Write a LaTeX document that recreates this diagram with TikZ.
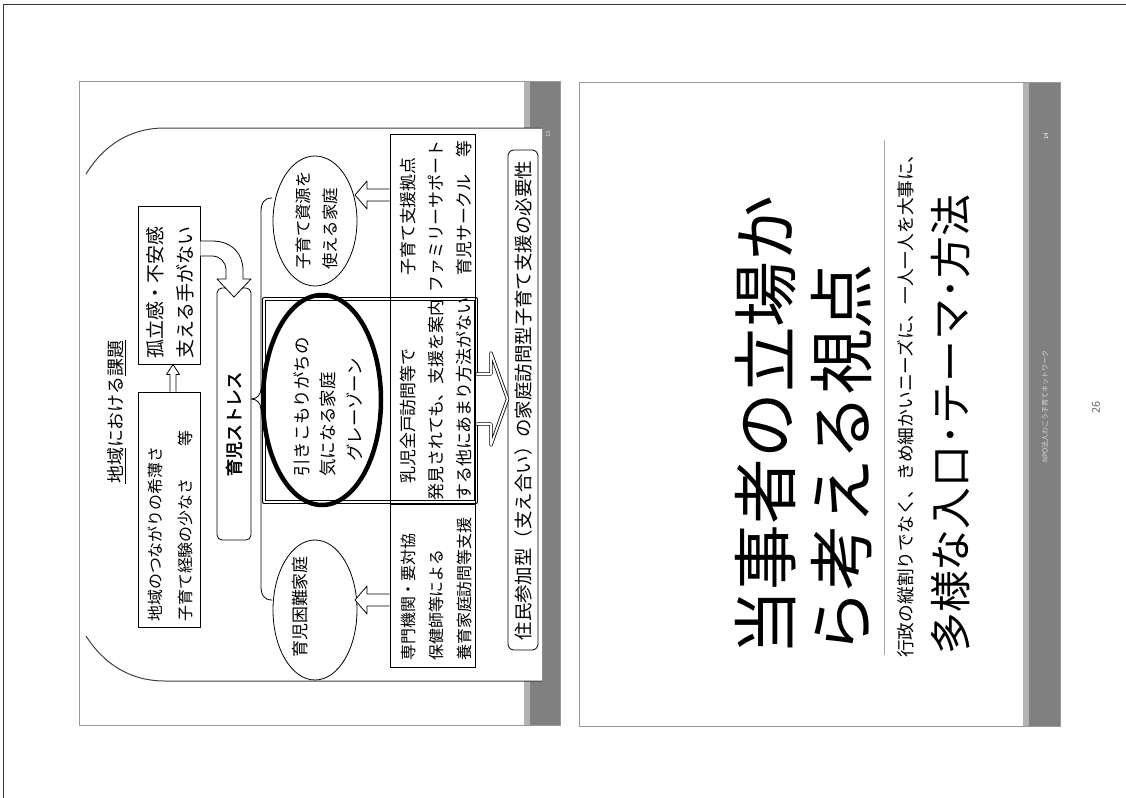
\documentclass[tikz,border=0pt]{standalone}
\usepackage{fontspec}
\newfontfamily\jp{Noto Sans CJK JP}
\newfontfamily\jpb[FakeBold=2.5]{Noto Sans CJK JP}
\newcommand\myjf[1]{\jp\fontsize{#1}{#1}\selectfont}
\newcommand\myjfb[1]{\jpb\fontsize{#1}{#1}\selectfont}
\usetikzlibrary{calc,shapes.geometric}
\begin{document}
\begin{tikzpicture}[x=1bp,y=-1bp,line join=round,
  frame/.style={draw=black!40,line width=1bp,fill=white},
  box/.style={draw=black,line width=0.8bp,inner sep=0pt,rectangle},
  oval/.style={draw=black,line width=0.8bp,inner sep=0pt,ellipse},
  vt/.style={rotate=90,inner sep=0pt,anchor=west},
  hollow/.style={draw=black,fill=white,line width=0.8bp},
  band/.style={fill=black!50},
  strip/.style={fill=black!30}]
\useasboundingbox (0,0) rectangle (1126,798);
% page edges
\draw[black!80,line width=1bp] (3,798) -- (3,5) -- (1126,5);

% ---------- slide 1 ----------
\draw[frame] (79,82) rectangle (560,725);
\fill[strip] (524,82) rectangle (530,725);
\fill[band] (530,82) rectangle (560,725);
\fill[white] (80,127) rectangle (542,681);
\draw[black!45,line width=0.8bp] (524,127) -- (542,127) -- (542,681) -- (524,681);
\node[vt,font=\myjf{6},text=black!15] (n13) at (548,138) {13};
% arch
\draw[black!75,line width=1bp] (86,174) .. controls (104,145) and (130,128) .. (165,128) -- (542,128);
\draw[black!75,line width=1bp] (86,636) .. controls (104,664) and (130,681) .. (165,681) -- (542,681);
% title
\node[vt,font=\myjf{18}] (ttl) at (117,484) {\underline{地域}における\underline{課題}};
% boxes A and B
\node[box,minimum width=62bp,minimum height=158bp] (boxB) at (169,285) {};
\node[box,minimum width=62bp,minimum height=235bp] (boxA) at (169,509.5) {};
\node[vt,font=\myjf{19}] (b1) at (155,359) {孤立感・不安感};
\node[vt,font=\myjf{19}] (b2) at (185,359) {支える手がない};
\node[vt,font=\myjf{16}] (a1) at (155,622) {地域のつながりの希薄さ};
\node[vt,font=\myjf{16}] (a2) at (185,622) {子育て経験の少なさ　　等};
\coordinate (ua) at ($(boxA.north)+(4,0)$);
\coordinate (ub) at ($(boxB.south)+(4,0)$);
\draw[hollow] ($(ua)+(-3,0)$) -- ($(ub)+(-3,10)$) -- ($(ub)+(-6.5,10)$) -- (ub) -- ($(ub)+(6.5,10)$) -- ($(ub)+(3,10)$) -- ($(ua)+(3,0)$);
% stress box
\node[draw=black,line width=0.8bp,rounded corners=5bp,minimum width=34bp,minimum height=252bp,inner sep=0pt] (stress) at (234,414) {};
\node[rotate=90,inner sep=0pt,font=\myjfb{17.5}] (stresst) at (234,424) {育児ストレス};
% curved arrow from boxB to stress
\draw[hollow] (boxB.east |- 0,241) -- (212,241) .. controls (232,241) and (243,254) .. (243,270) -- (243,279) -- (251,279) -- (234,297) -- (217,279) -- (226,279) -- (226,270) .. controls (226,262) and (220,256) .. (212,256) -- (boxB.east |- 0,256);
% brace
\draw[black,line width=0.8bp] (272,198) .. controls (264,198) and (261,203) .. (261,212) -- (261,388) .. controls (261,395) and (257,399) .. (251,399) .. controls (257,399) and (261,403) .. (261,410) -- (261,586) .. controls (261,595) and (264,600) .. (272,600);
% ellipses
\node[oval,minimum width=84bp,minimum height=130bp] (e1) at (315,221) {};
\node[vt,font=\myjf{16.5}] (e1a) at (303,270) {子育て資源を};
\node[vt,font=\myjf{16.5}] (e1b) at (330,270) {使える家庭};
\node[oval,minimum width=84bp,minimum height=140bp] (e2) at (315,610) {};
\node[vt,font=\myjf{17}] (e2a) at (300,658) {育児困難家庭};
% grey zone
\node[draw=black,line width=0.8bp,double,double distance=2.4bp,minimum width=212bp,minimum height=203bp,inner sep=0pt] (dbl) at (370,400.5) {};
\node[draw=black,line width=4.5bp,ellipse,inner sep=0pt,minimum width=118bp,minimum height=210bp] (gz) at (322,400) {};
\node[vt,font=\myjf{17.5}] (g1) at (302,477) {引きこもりがちの};
\node[vt,font=\myjf{17.5}] (g2) at (328,477) {気になる家庭};
\node[vt,font=\myjf{17.5}] (g3) at (355,462) {グレーゾーン};
% text boxes
\node[box,minimum width=85bp,minimum height=163bp] (tbR) at (432.5,215.5) {};
\node[box,minimum width=85bp,minimum height=207bp] (tbM) at (432.5,400.5) {};
\node[box,minimum width=85bp,minimum height=163bp] (tbL) at (432.5,585.5) {};
\node[vt,font=\myjf{17}] (r1) at (408,276) {子育て支援拠点};
\node[vt,font=\myjf{17}] (r2) at (436,293) {ファミリーサポート};
\node[vt,font=\myjf{17}] (r3) at (464,276) {育児サークル　等};
\node[vt,font=\myjf{17}] (m1) at (408,484) {乳児全戸訪問等で};
\node[vt,font=\myjf{17}] (m2) at (436,501) {発見されても、支援を案内};
\node[vt,font=\myjf{17}] (m3) at (464,501) {する他にあまり方法がない};
\node[vt,font=\myjf{16}] (l1) at (408,661) {専門機関・要対協};
\node[vt,font=\myjf{16}] (l2) at (436,661) {保健師等による};
\node[vt,font=\myjf{16}] (l3) at (464,661) {養育家庭訪問等支援};
% left-pointing arrows
\draw[hollow] (tbR.west |- 0,189) -- (367,189) -- (367,181) -- (355,195) -- (367,209) -- (367,201) -- (tbR.west |- 0,201);
\draw[hollow] (tbL.west |- 0,594) -- (367,594) -- (367,586) -- (355,600) -- (367,614) -- (367,606) -- (tbL.west |- 0,606);
% bottom box
\node[draw=black,line width=0.8bp,rounded corners=6bp,minimum width=30bp,minimum height=500bp,inner sep=0pt] (need) at (523,400) {};
\node[vt,font=\myjf{18.5}] (needt) at (523,640.5) {住民参加型（支え合い）の家庭訪問型子育て支援の必要性};
% big arrow
\draw[draw=black,fill=white,line width=0.8bp,double,double distance=1.8bp] (dbl.east |- 0,374) -- (491,374) -- (491,353) -- (need.west |- 0,399) -- (491,445) -- (491,424) -- (dbl.east |- 0,424);

% ---------- slide 2 ----------
\draw[frame] (579,83) rectangle (1060,726);
\fill[strip] (1023,83) rectangle (1029,726);
\fill[band] (1029,83) rectangle (1060,726);
\node[vt,font=\myjf{6},text=white] (n14) at (1046,140) {14};
\node[vt,font=\myjf{7},text=white!85!black] (foot) at (1045,463) {NPO法人わこう子育てネットワーク};
\node[vt,font=\myjf{66}] (h1) at (766,656) {当事者の立場か};
\node[vt,font=\myjf{66}] (h2) at (842,656) {ら考える視点};
\draw[black!35,line width=1bp] (884,140) -- (884,655);
\node[vt,font=\myjf{17.8}] (sub) at (906,658) {行政の縦割りでなく、きめ細かいニーズに、一人一人を大事に、};
\node[vt,font=\myjf{42}] (sub2) at (951,655) {多様な入口･テーマ･方法};
% page number
\node[rotate=90,inner sep=0pt,font=\myjf{11},text=black!60] (pg) at (1096,407) {26};
\end{tikzpicture}
\end{document}
